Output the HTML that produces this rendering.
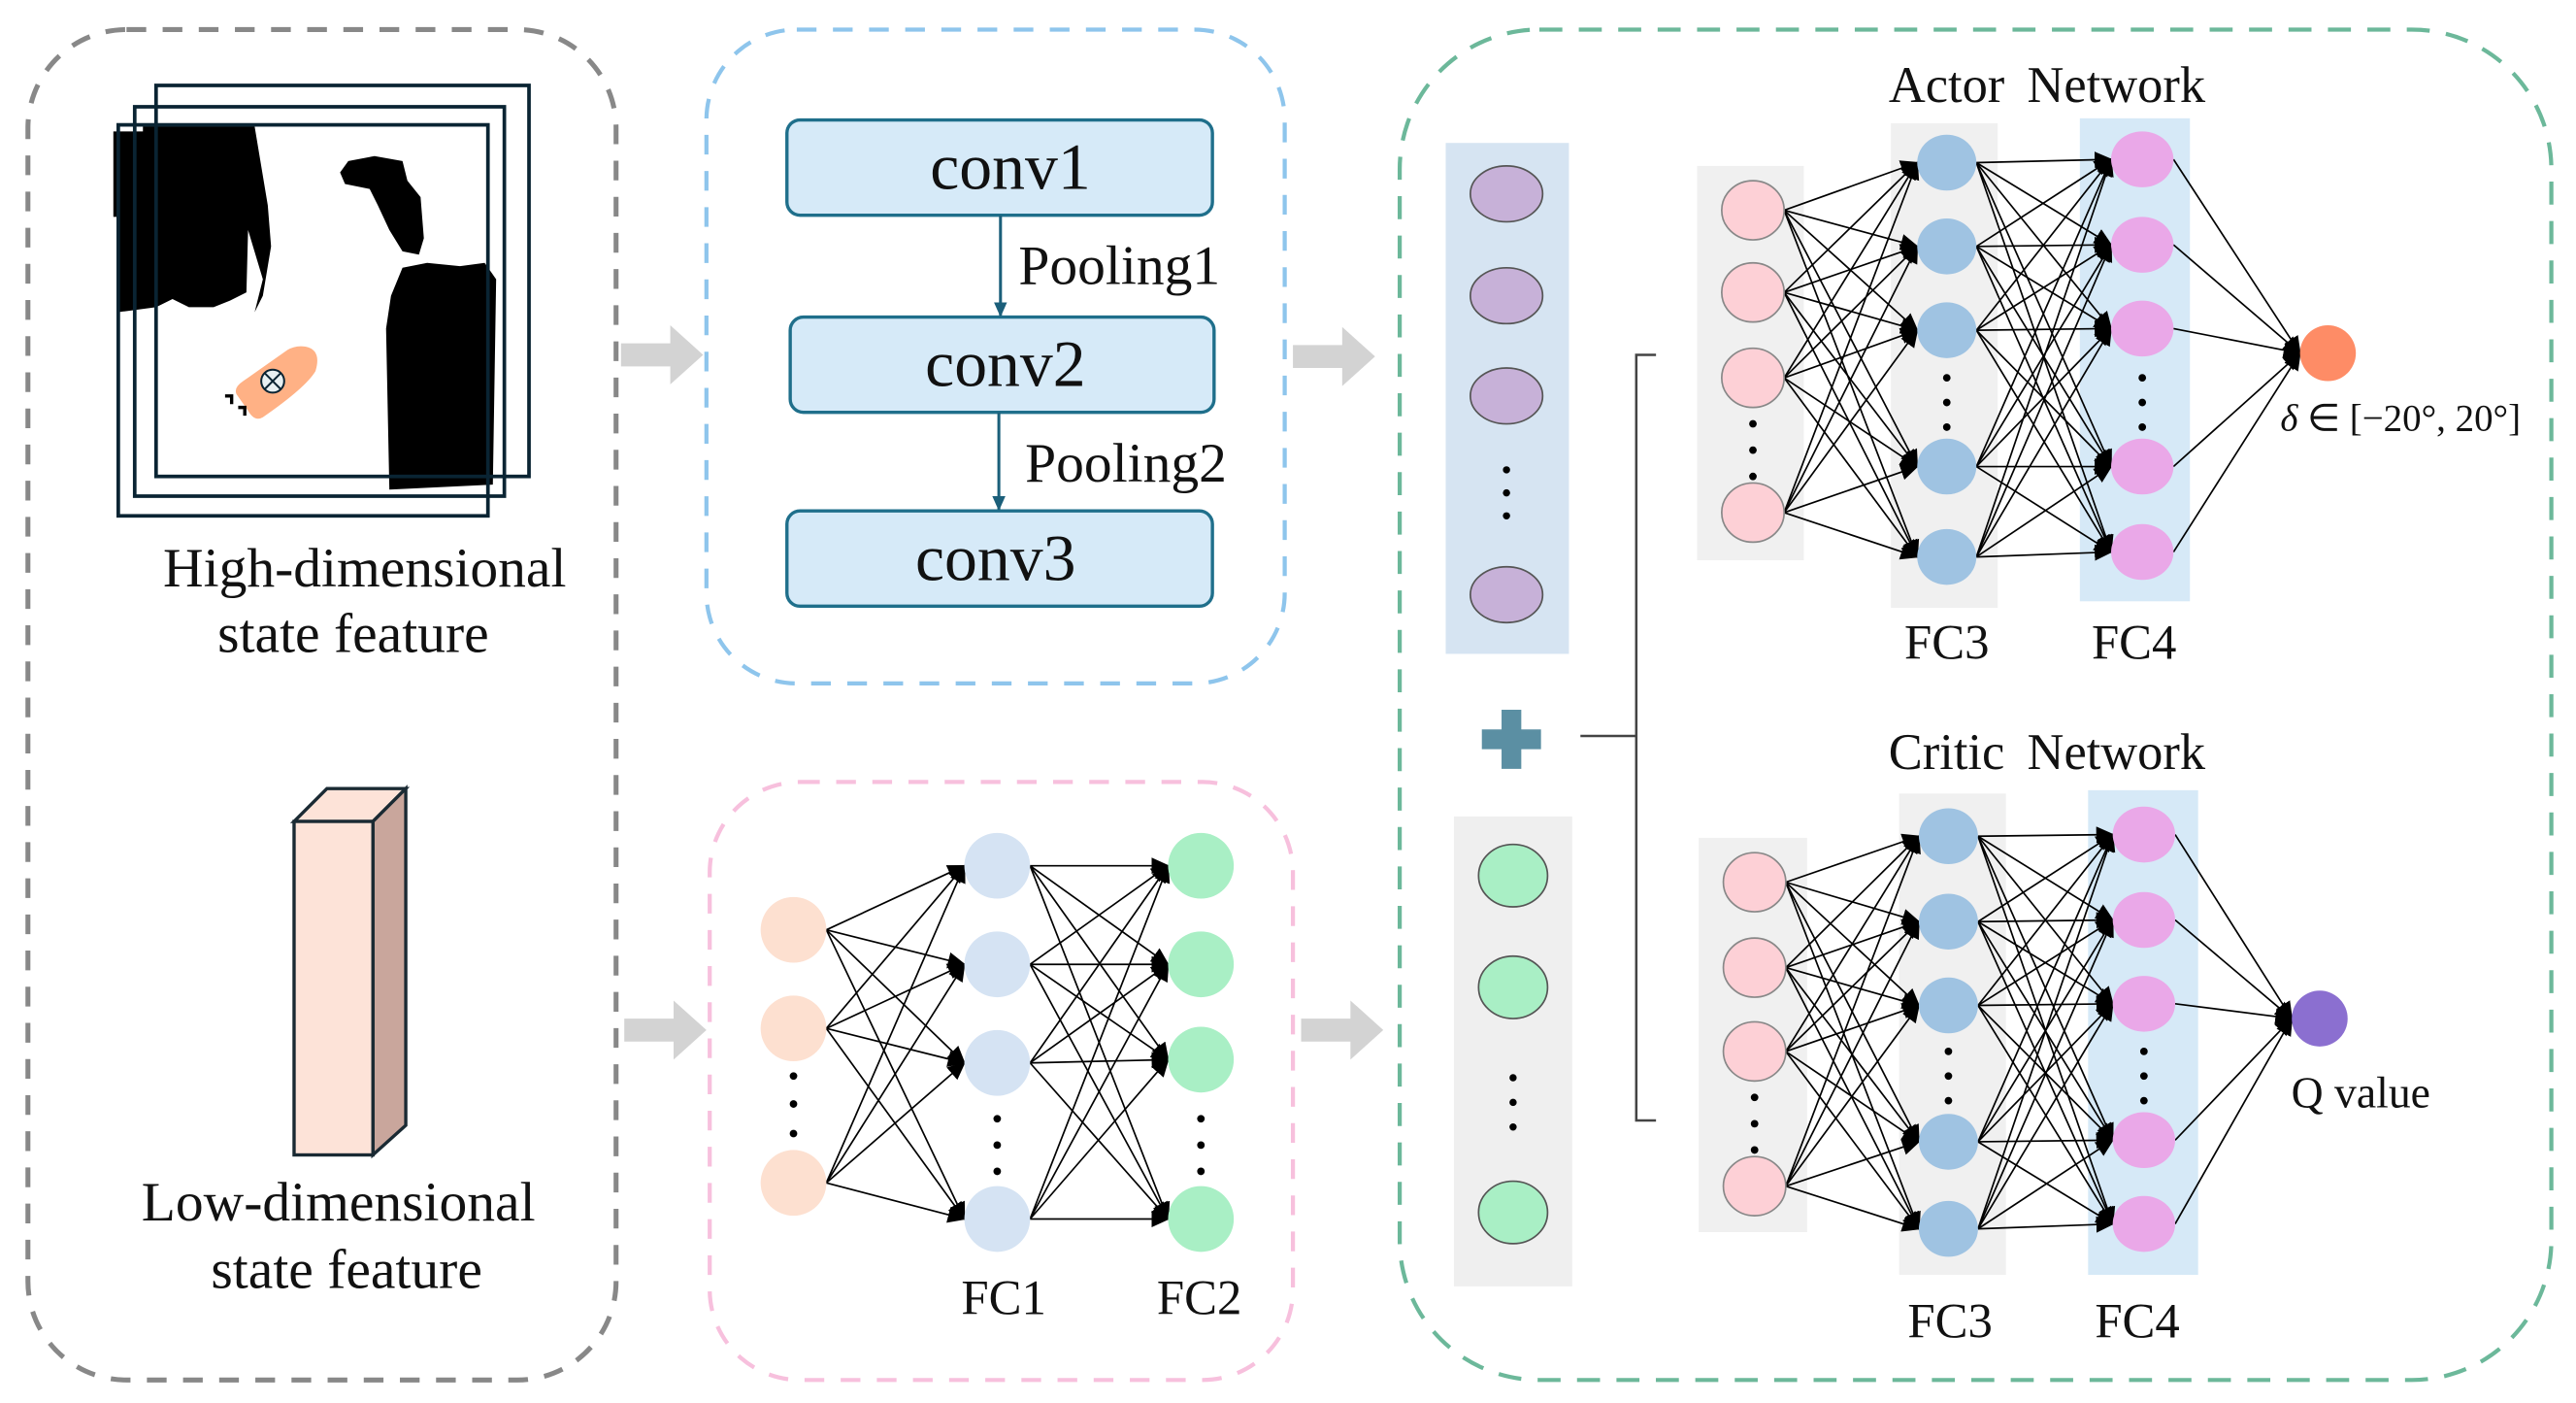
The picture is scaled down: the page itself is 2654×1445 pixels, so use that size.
<!DOCTYPE html>
<html><head><meta charset="utf-8"><style>
html,body{margin:0;padding:0;background:#fff;}
svg{display:block;}
text{font-family:"Liberation Serif",serif;fill:#111;}
</style></head><body>
<svg id="s" width="2654" height="1445" viewBox="0 0 1568 854" preserveAspectRatio="none" xmlns="http://www.w3.org/2000/svg">
<defs>
<marker id="ah" markerUnits="userSpaceOnUse" markerWidth="12" markerHeight="12" refX="10" refY="5" orient="auto"><path d="M0,0 L11,5 L0,10 Z" fill="#000"/></marker>
<marker id="ab" markerUnits="userSpaceOnUse" markerWidth="10" markerHeight="10" refX="8" refY="4" orient="auto"><path d="M0,0 L9,4 L0,8 Z" fill="#1b5f7a"/></marker>
</defs>
<rect x="17" y="18" width="358" height="822" rx="60" fill="none" stroke="#888" stroke-width="3" stroke-dasharray="12 10"/>
<rect x="430" y="18" width="352" height="398" rx="55" fill="none" stroke="#8ec5ec" stroke-width="2.5" stroke-dasharray="12 10"/>
<rect x="432" y="476" width="355" height="364" rx="55" fill="none" stroke="#f7c0dd" stroke-width="2.5" stroke-dasharray="12 10"/>
<rect x="852" y="18" width="701" height="822" rx="85" fill="none" stroke="#6cb89a" stroke-width="2.5" stroke-dasharray="14 10"/>

<path d="M87,125 L87,77 L155,77 L158,95 L163,125 L165,150 L160,180 L155,190 L160,170 L151,140 L150,178 L140,183 L130,187 L115,187 L105,182 L95,187 L72,190 L72,120 Z" fill="#000"/>
<rect x="69" y="80" width="20" height="52" fill="#000"/>
<path d="M212,98 L228,95 L245,98 L248,110 L256,120 L258,145 L255,155 L245,153 L237,140 L230,125 L225,115 L210,112 L207,105 Z" fill="#000"/>
<path d="M245,163 L260,160 L280,162 L295,160 L302,170 L300,295 L237,298 L235,200 L238,180 Z" fill="#000"/>
<rect x="95" y="52" width="227" height="238" fill="none" stroke="#0a2433" stroke-width="2.2"/>
<rect x="82" y="65" width="225" height="237" fill="none" stroke="#0a2433" stroke-width="2.2"/>
<rect x="72" y="76" width="225" height="238" fill="none" stroke="#0a2433" stroke-width="2.2"/>
<path d="M186,211 Q196,213 192,226 Q186,236 160,254 Q155,257 151,250 L144,240 Q142,236 148,232 L175,213 Q180,210 186,211 Z" fill="#ffb185"/>
<ellipse cx="166" cy="232" rx="7" ry="7" fill="#e8f0f2" stroke="#0a2433" stroke-width="1.2"/>
<path d="M161,227 L171,237 M171,227 L161,237" stroke="#0a2433" stroke-width="1.2"/>
<path d="M137,241 h4 v5 M145,248 h4 v5" stroke="#000" stroke-width="2" fill="none"/>
<text x="222" y="357" font-size="34" text-anchor="middle">High-dimensional</text>
<text x="215" y="397" font-size="34" text-anchor="middle">state feature</text>

<path d="M179,500 L199,480 L247,480 L227,500 Z" fill="#fde3d8" stroke="#1a2a33" stroke-width="2"/>
<path d="M227,500 L247,480 L247,685 L227,703 Z" fill="#c9a69c" stroke="#1a2a33" stroke-width="2"/>
<rect x="179" y="500" width="48" height="203" fill="#fde3d8" stroke="#1a2a33" stroke-width="2"/>
<text x="206" y="743" font-size="34" text-anchor="middle">Low-dimensional</text>
<text x="211" y="784" font-size="34" text-anchor="middle">state feature</text>

<g fill="#d3d3d3">
<path d="M378,209 h30 v-11 l20,18 l-20,18 v-11 h-30 Z"/>
<path d="M787,210 h30 v-11 l20,18 l-20,18 v-11 h-30 Z"/>
<path d="M380,620 h30 v-11 l20,18 l-20,18 v-11 h-30 Z"/>
<path d="M792,620 h30 v-11 l20,18 l-20,18 v-11 h-30 Z"/>
</g>

<g fill="#d6eaf8" stroke="#1f6f8b" stroke-width="2">
<rect x="479" y="73" width="259" height="58" rx="8"/>
<rect x="481" y="193" width="258" height="58" rx="8"/>
<rect x="479" y="311" width="259" height="58" rx="8"/>
</g>
<text x="615" y="115" font-size="40" text-anchor="middle">conv1</text>
<text x="612" y="235" font-size="40" text-anchor="middle">conv2</text>
<text x="606" y="353" font-size="40" text-anchor="middle">conv3</text>
<line x1="609" y1="131" x2="609" y2="192" stroke="#1b5f7a" stroke-width="1.8" marker-end="url(#ab)"/>
<line x1="608" y1="251" x2="608" y2="310" stroke="#1b5f7a" stroke-width="1.8" marker-end="url(#ab)"/>
<text x="620" y="173" font-size="34">Pooling1</text>
<text x="624" y="293" font-size="34">Pooling2</text>

<rect x="880" y="87" width="75" height="311" fill="#d6e4f2"/>
<rect x="885" y="497" width="72" height="286" fill="#efefef"/>
<g fill="#c7b1d8" stroke="#555" stroke-width="1">
<ellipse cx="917" cy="118" rx="22" ry="17"/><ellipse cx="917" cy="180" rx="22" ry="17"/>
<ellipse cx="917" cy="241" rx="22" ry="17"/><ellipse cx="917" cy="362" rx="22" ry="17"/>
</g>
<g fill="#a9efc5" stroke="#555" stroke-width="1">
<ellipse cx="921" cy="533" rx="21" ry="19"/><ellipse cx="921" cy="601" rx="21" ry="19"/>
<ellipse cx="921" cy="738" rx="21" ry="19"/>
</g>
<g fill="#000"><circle cx="917" cy="286" r="2.2"/><circle cx="917" cy="300" r="2.2"/><circle cx="917" cy="314" r="2.2"/>
<circle cx="921" cy="656" r="2.2"/><circle cx="921" cy="671" r="2.2"/><circle cx="921" cy="686" r="2.2"/></g>
<path d="M914,432 h12 v12 h12 v12 h-12 v12 h-12 v-12 h-12 v-12 h12 Z" fill="#5b8fa3"/>
<path d="M962,448 H996 M1008,216 H996 V682 H1008" fill="none" stroke="#444" stroke-width="1.5"/>

<rect x="1033" y="101" width="65" height="240" fill="#f0f0f0"/>
<rect x="1151" y="75" width="65" height="295" fill="#f0f0f0"/>
<rect x="1266" y="72" width="67" height="294" fill="#d6e9f7"/>
<rect x="1034" y="510" width="66" height="240" fill="#f0f0f0"/>
<rect x="1156" y="483" width="65" height="293" fill="#f0f0f0"/>
<rect x="1271" y="481" width="67" height="295" fill="#d6e9f7"/>
<g id="edges"></g>
<g id="nodes"></g>

<text x="1246" y="62" font-size="31" text-anchor="middle" word-spacing="6">Actor Network</text>
<text x="1185" y="401" font-size="30" text-anchor="middle">FC3</text>
<text x="1299" y="401" font-size="30" text-anchor="middle">FC4</text>
<text x="1388" y="262" font-size="23"><tspan font-style="italic">δ</tspan> ∈ [−20°, 20°]</text>
<text x="1246" y="468" font-size="31" text-anchor="middle" word-spacing="6">Critic Network</text>
<text x="1187" y="814" font-size="30" text-anchor="middle">FC3</text>
<text x="1301" y="814" font-size="30" text-anchor="middle">FC4</text>
<text x="1437" y="674" font-size="27" text-anchor="middle">Q value</text>
<text x="611" y="800" font-size="30" text-anchor="middle">FC1</text>
<text x="730" y="800" font-size="30" text-anchor="middle">FC2</text>
</svg>
<script>
var NS="http://www.w3.org/2000/svg",E=document.getElementById("edges"),N=document.getElementById("nodes");
function el(p,t,a){var e=document.createElementNS(NS,t);for(var k in a)e.setAttribute(k,a[k]);p.appendChild(e);return e;}
function layer(x,ys,rx,ry,fill,stroke,dots){ys.forEach(function(y){el(N,"ellipse",{cx:x,cy:y,rx:rx,ry:ry,fill:fill,stroke:stroke||"none","stroke-width":1});});
 if(dots)dots.forEach(function(y){el(N,"circle",{cx:x,cy:y,r:2.3,fill:"#000"});});return {x:x,ys:ys,rx:rx};}
function conn(a,b){a.ys.forEach(function(y1){b.ys.forEach(function(y2){el(E,"line",{x1:a.x+a.rx,y1:y1,x2:b.x-b.rx,y2:y2,stroke:"#000","stroke-width":1,"marker-end":"url(#ah)"});});});}
var i1=layer(483,[566,626,720],20,20,"#fde0d0",null,[655,672,690]);
var f1=layer(607,[527,587,647,742],20,20,"#d5e3f3",null,[681,697,713]);
var f2=layer(731,[527,587,645,742],20,20,"#a9efc5",null,[681,697,713]);
conn(i1,f1);conn(f1,f2);
var a0=layer(1067,[128,178,230,312],19,18,"#fdd0d6","#888",[258,274,290]);
var a1=layer(1185,[99,150,201,284,339],18,17,"#9fc3e2",null,[230,245,260]);
var a2=layer(1304,[97,149,200,284,336],19,17,"#eaa8e8",null,[230,245,260]);
var a3=layer(1417,[215],17,17,"#fe8c66");
conn(a0,a1);conn(a1,a2);conn(a2,a3);
var c0=layer(1068,[537,589,640,722],19,18,"#fdd0d6","#888",[668,684,700]);
var c1=layer(1186,[509,561,612,695,748],18,17,"#9fc3e2",null,[640,655,670]);
var c2=layer(1305,[508,560,611,694,745],19,17,"#eaa8e8",null,[640,655,670]);
var c3=layer(1412,[620],17,17,"#8b6fd0");
conn(c0,c1);conn(c1,c2);conn(c2,c3);
</script>
</body></html>
